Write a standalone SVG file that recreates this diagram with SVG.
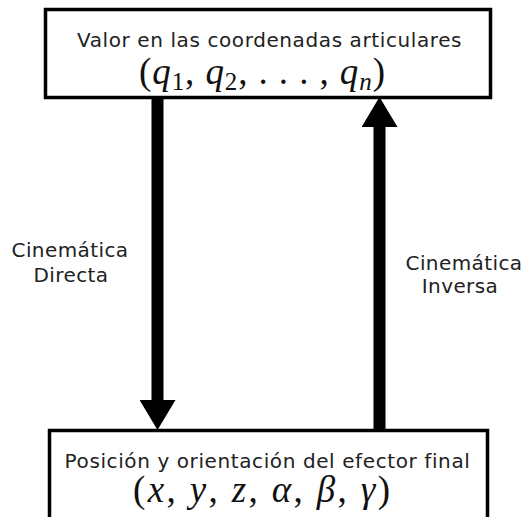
<svg xmlns="http://www.w3.org/2000/svg" width="531" height="517" viewBox="0 0 531 517">
  <style>
    .box { fill: #ffffff; stroke: #000000; stroke-width: 3.5; }
    .lbl { font-family: "DejaVu Sans", Verdana, sans-serif; font-size: 20px; fill: #222222; text-anchor: middle; letter-spacing: 0.4px; }
    .title { letter-spacing: 0.6px; }
    .math { font-family: "Liberation Serif", "Times New Roman", serif; font-size: 37px; fill: #111111; }
    .it { font-style: italic; }
    .sub { font-size: 25px; }
    .shaft { stroke: #000000; stroke-width: 12; fill: none; }
  </style>
  <defs>
    <marker id="head" markerUnits="userSpaceOnUse" viewBox="0 0 30 36" markerWidth="30" markerHeight="36" refX="10" refY="18" orient="auto">
      <path d="M0,0 L30,18 L0,36 Z" fill="#000000"/>
    </marker>
  </defs>
  <rect width="531" height="517" fill="#ffffff"/>

  <g id="connectors">
    <line class="shaft" x1="157.5" y1="99" x2="157.5" y2="410" marker-end="url(#head)"/>
    <line class="shaft" x1="379.5" y1="429" x2="379.5" y2="117" marker-end="url(#head)"/>
  </g>

  <g id="node-joints">
    <rect class="box" x="45.5" y="9.5" width="445" height="88"/>
    <text class="lbl title" x="269.5" y="47">Valor en las coordenadas articulares</text>
    <text class="math" x="139" y="84" textLength="246" lengthAdjust="spacing">(<tspan class="it">q</tspan><tspan class="sub" dy="6">1</tspan><tspan dy="-6">, </tspan><tspan class="it">q</tspan><tspan class="sub" dy="6">2</tspan><tspan dy="-6">, . . . , </tspan><tspan class="it">q</tspan><tspan class="sub it" dy="6">n</tspan><tspan dy="-6">)</tspan></text>
  </g>

  <g id="node-effector">
    <rect class="box" x="49.5" y="430.5" width="438" height="100"/>
    <text class="lbl title" x="267.5" y="468">Posición y orientación del efector final</text>
    <text class="math" x="133" y="502" textLength="257" lengthAdjust="spacing">(<tspan class="it">x</tspan>, <tspan class="it">y</tspan>, <tspan class="it">z</tspan>, <tspan class="it">α</tspan>, <tspan class="it">β</tspan>, <tspan class="it">γ</tspan>)</text>
  </g>

  <g id="label-direct">
    <text class="lbl" x="70" y="257">Cinemática</text>
    <text class="lbl" x="71" y="282">Directa</text>
  </g>
  <g id="label-inverse">
    <text class="lbl" x="464" y="270">Cinemática</text>
    <text class="lbl" x="460" y="293">Inversa</text>
  </g>
</svg>
